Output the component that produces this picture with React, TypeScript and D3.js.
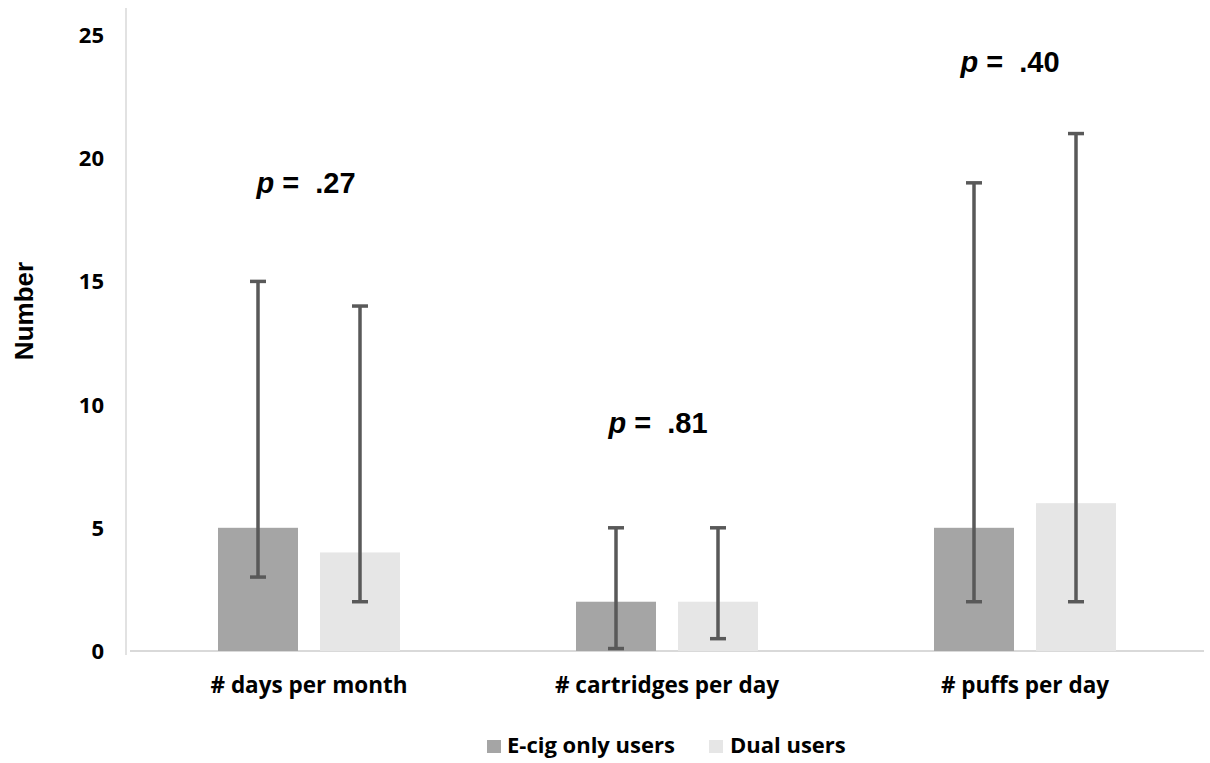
import React from "react";
import * as d3 from "d3";

const categories = ["# days per month", "# cartridges per day", "# puffs per day"];
const seriesNames = ["E-cig only users", "Dual users"];
const ecigMean = [5, 2, 5];
const dualMean = [4, 2, 6];
const ecigLow = [3, 0.1, 2];
const dualLow = [2, 0.5, 2];
const ecigHigh = [15, 5, 19];
const dualHigh = [14, 5, 21];
const pValues = [".27", ".81", ".40"];
const yTicks = [0, 5, 10, 15, 20, 25];

const W = 1210;
const H = 763;
const colors = ["#a5a5a5", "#e6e6e6"];
const pLabelBaseline = [193, 433, 72];
const pLabelShift = [-3, -9, -15];

export default function App() {
  const x0 = d3.scaleBand<string>().domain(categories).range([130, 1204]).paddingInner(0).paddingOuter(0);
  const x1 = d3.scaleBand<string>().domain(seriesNames).range([88, 270]).paddingInner(22 / 102).paddingOuter(0);
  const y = d3.scaleLinear().domain([0, 25]).range([651, 35]);

  const means = [ecigMean, dualMean];
  const lows = [ecigLow, dualLow];
  const highs = [ecigHigh, dualHigh];
  const tickFont = "'Open Sans', sans-serif";
  const arial = "'Liberation Sans', Arial, sans-serif";

  return (
    <svg width={W} height={H} style={{ position: "absolute", left: 0, top: 0, background: "#fff" }}>
      <rect x={0} y={0} width={W} height={H} fill="#fff" />
      {/* axes */}
      <line x1={126} x2={126} y1={8} y2={655} stroke="#d9d9d9" strokeWidth={1.5} />
      <line x1={130} x2={1204} y1={y(0)} y2={y(0)} stroke="#d9d9d9" strokeWidth={2} />
      {yTicks.map((t) => (
        <text key={t} x={104} y={y(t)} dy="0.36em" textAnchor="end" fontFamily={tickFont} fontWeight={700} fontSize={22} fill="#000">
          {t}
        </text>
      ))}
      <text
        transform={`translate(33,${311}) rotate(-90)`}
        textAnchor="middle"
        fontFamily={arial}
        fontWeight={700}
        fontSize={26}
        fill="#000"
      >
        Number
      </text>
      {/* bars */}
      {categories.map((c, i) => (
        <g key={c} transform={`translate(${x0(c)},0)`}>
          {seriesNames.map((s, j) => (
            <rect key={s} x={x1(s)} y={y(means[j][i])} width={x1.bandwidth()} height={y(0) - y(means[j][i])} fill={colors[j]} />
          ))}
        </g>
      ))}
      {/* error bars */}
      {categories.map((c, i) => (
        <g key={c + "err"} transform={`translate(${x0(c)},0)`}>
          {seriesNames.map((s, j) => {
            const cx = (x1(s) as number) + x1.bandwidth() / 2;
            return (
              <g key={s} stroke="#595959" strokeWidth={3.5}>
                <line x1={cx} x2={cx} y1={y(lows[j][i])} y2={y(highs[j][i])} />
                <line x1={cx - 8} x2={cx + 8} y1={y(lows[j][i])} y2={y(lows[j][i])} />
                <line x1={cx - 8} x2={cx + 8} y1={y(highs[j][i])} y2={y(highs[j][i])} />
              </g>
            );
          })}
        </g>
      ))}
      {/* p labels */}
      {categories.map((c, i) => (
        <text
          key={c + "p"}
          x={(x0(c) as number) + x0.bandwidth() / 2 + pLabelShift[i]}
          y={pLabelBaseline[i]}
          textAnchor="middle"
          fontFamily={arial}
          fontWeight={700}
          fontSize={29}
          fill="#000"
          style={{ whiteSpace: "pre" }}
        >
          <tspan fontStyle="italic">p</tspan>
          {" =  " + pValues[i]}
        </text>
      ))}
      {/* category labels */}
      {categories.map((c) => (
        <text key={c + "lab"} x={(x0(c) as number) + x0.bandwidth() / 2} y={693} textAnchor="middle" fontFamily={tickFont} fontWeight={700} fontSize={22.5} fill="#000">
          {c}
        </text>
      ))}
      {/* legend */}
      <rect x={487} y={740} width={14} height={13} fill={colors[0]} />
      <text x={507} y={753} fontFamily={tickFont} fontWeight={700} fontSize={22} fill="#000">
        {seriesNames[0]}
      </text>
      <rect x={709} y={740} width={14} height={13} fill={colors[1]} />
      <text x={730} y={753} fontFamily={tickFont} fontWeight={700} fontSize={22} fill="#000">
        {seriesNames[1]}
      </text>
    </svg>
  );
}
